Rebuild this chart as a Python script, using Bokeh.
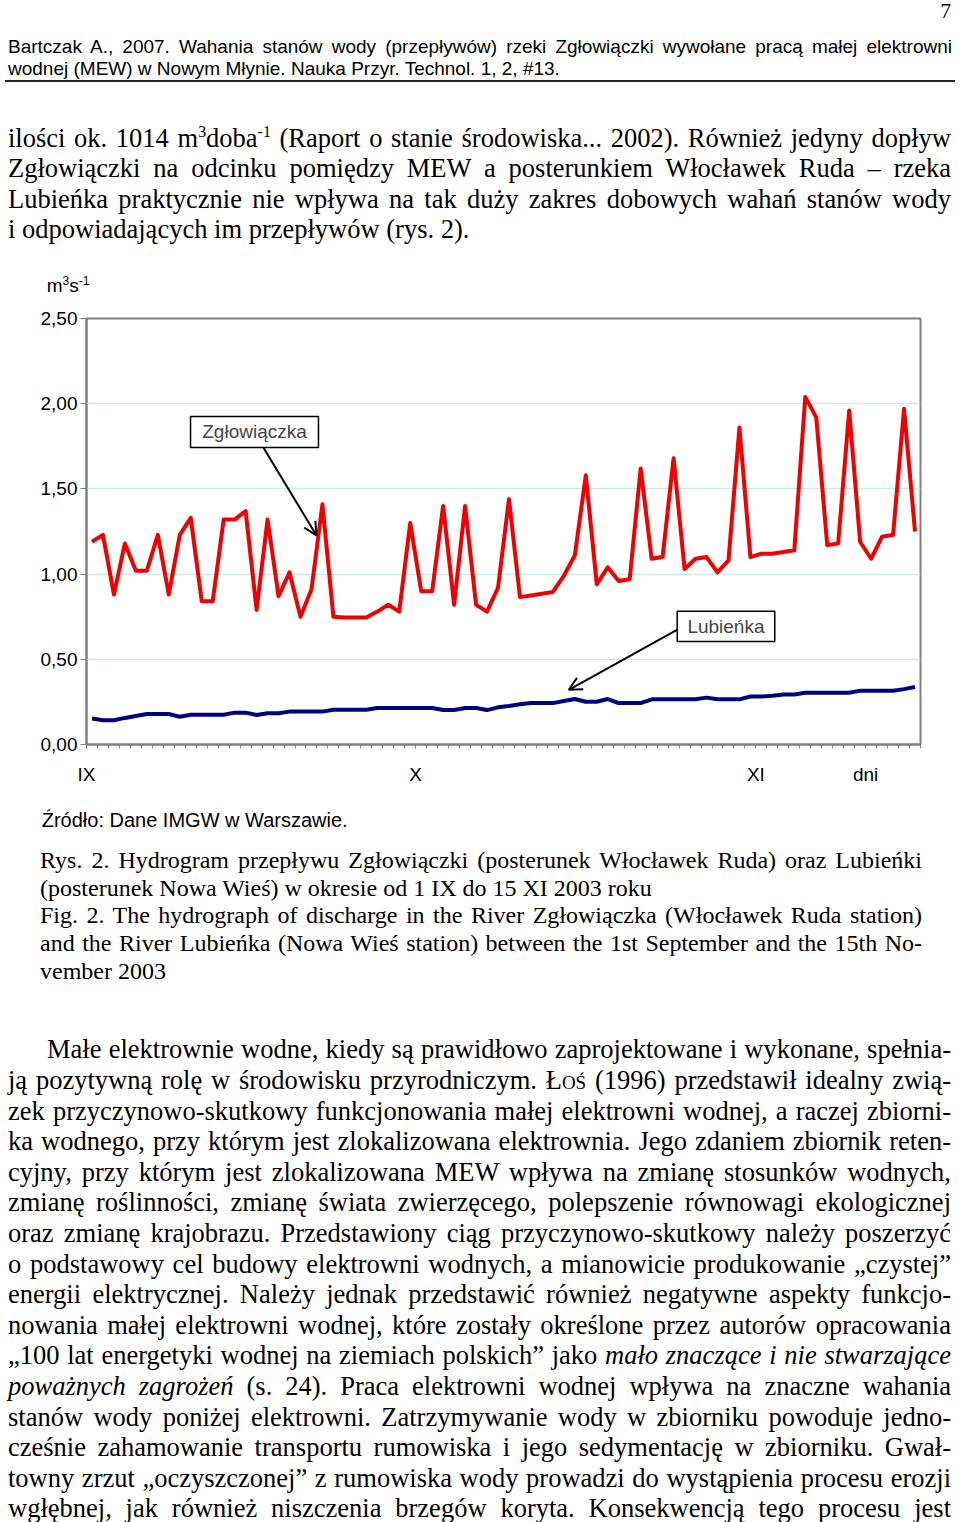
import numpy as np
from bokeh.plotting import figure
from bokeh.models import Range1d, FixedTicker, Label, Arrow, OpenHead, BoxAnnotation, Div
from bokeh.layouts import column
from bokeh.embed import file_html
from bokeh.resources import INLINE

# ---------------- data ----------------
days = list(range(1, 77))  # 1 IX .. 15 XI 2003
zglowiaczka = [1.19, 1.23, 0.88, 1.18, 1.02, 1.02, 1.23, 0.88, 1.23, 1.33,
               0.84, 0.84, 1.32, 1.32, 1.37, 0.79, 1.32, 0.87, 1.01, 0.75,
               0.91, 1.41, 0.75, 0.745, 0.745, 0.745, 0.78, 0.82, 0.78, 1.30,
               0.90, 0.90, 1.40, 0.82, 1.40, 0.82, 0.78, 0.92, 1.44, 0.865,
               0.875, 0.885, 0.895, 0.99, 1.11, 1.58, 0.94, 1.04, 0.96, 0.97,
               1.62, 1.09, 1.10, 1.68, 1.03, 1.09, 1.10, 1.01, 1.08, 1.86,
               1.10, 1.12, 1.12, 1.13, 1.14, 2.04, 1.92, 1.17, 1.18, 1.96,
               1.19, 1.09, 1.22, 1.23, 1.97, 1.25]
lubienka = [0.152, 0.142, 0.142, 0.156, 0.167, 0.179, 0.179, 0.179, 0.163, 0.175,
            0.175, 0.175, 0.175, 0.187, 0.187, 0.173, 0.183, 0.183, 0.193, 0.193,
            0.193, 0.193, 0.204, 0.204, 0.204, 0.204, 0.214, 0.214, 0.214, 0.214,
            0.214, 0.214, 0.202, 0.202, 0.214, 0.214, 0.202, 0.218, 0.226, 0.236,
            0.243, 0.243, 0.243, 0.255, 0.267, 0.251, 0.251, 0.267, 0.243, 0.243,
            0.243, 0.265, 0.265, 0.265, 0.265, 0.265, 0.275, 0.265, 0.265, 0.265,
            0.282, 0.282, 0.286, 0.294, 0.294, 0.304, 0.304, 0.304, 0.304, 0.304,
            0.316, 0.316, 0.316, 0.316, 0.325, 0.337]
y_ticks = [0.0, 0.5, 1.0, 1.5, 2.0, 2.5]
y_tick_labels = ["0,00", "0,50", "1,00", "1,50", "2,00", "2,50"]
x_ticks = [0, 30, 61, 71]
x_tick_labels = ["IX", "X", "XI", "dni"]

x = np.array(days) - 0.5

SANS = "Liberation Sans"
SERIF = "Liberation Serif"

# ---------------- chart ----------------
p = figure(width=960, height=500, x_range=Range1d(0, 76), y_range=Range1d(0, 2.5),
           output_backend="svg", toolbar_location=None, title=None,
           min_border_left=86, min_border_right=40, min_border_top=18, min_border_bottom=56,
           margin=(0, 0, 0, 0))
p.background_fill_color = "white"
p.border_fill_color = "white"
p.outline_line_color = "#808080"
p.outline_line_width = 2

p.xgrid.grid_line_color = None
p.ygrid.grid_line_color = "#c9ecef"
p.ygrid.grid_line_width = 1.5

xa = p.xaxis[0]
xa.ticker = FixedTicker(ticks=x_ticks, minor_ticks=list(range(0, 77)))
xa.major_label_overrides = dict(zip(x_ticks, x_tick_labels))
xa.axis_line_color = "#808080"
xa.axis_line_width = 2
xa.major_tick_line_color = "#808080"
xa.minor_tick_line_color = "#808080"
xa.major_tick_out = 4
xa.major_tick_in = 0
xa.minor_tick_out = 4
xa.minor_tick_in = 0
xa.major_label_standoff = 15
xa.major_label_text_font = SANS
xa.major_label_text_font_size = "19px"
xa.major_label_text_color = "black"

ya = p.yaxis[0]
ya.ticker = FixedTicker(ticks=y_ticks)
ya.major_label_overrides = dict(zip(y_ticks, y_tick_labels))
ya.axis_line_color = "#808080"
ya.axis_line_width = 2
ya.major_tick_line_color = "#808080"
ya.minor_tick_line_color = None
ya.major_tick_out = 6
ya.major_tick_in = 0
ya.major_label_standoff = 3
ya.major_label_text_font = SANS
ya.major_label_text_font_size = "19px"
ya.major_label_text_color = "black"

p.line(x, zglowiaczka, line_color="#f00000", line_width=4, line_join="round")
p.line(x, lubienka, line_color="#000080", line_width=4, line_join="round")

# annotations (arrows + boxed labels)
p.add_layout(Arrow(end=OpenHead(size=13, line_width=2, line_color="black"),
                   x_start=16.13, y_start=1.741, x_end=20.96, y_end=1.227,
                   line_width=2, line_color="black"))
p.add_layout(Arrow(end=OpenHead(size=13, line_width=2, line_color="black"),
                   x_start=53.97, y_start=0.679, x_end=43.95, y_end=0.321,
                   line_width=2, line_color="black"))
p.add_layout(BoxAnnotation(left=9.48, right=21.14, bottom=1.743, top=1.925,
                           fill_color="white", fill_alpha=1.0,
                           line_color="black", line_alpha=1.0, line_width=1.5))
p.add_layout(BoxAnnotation(left=53.83, right=62.72, bottom=0.604, top=0.782,
                           fill_color="white", fill_alpha=1.0,
                           line_color="black", line_alpha=1.0, line_width=1.5))
p.add_layout(Label(x=15.31, y=1.834, text="Zgłowiączka", text_align="center",
                   text_baseline="middle", text_font=SANS, text_font_size="19px"))
p.add_layout(Label(x=58.27, y=0.693, text="Lubieńka", text_align="center",
                   text_baseline="middle", text_font=SANS, text_font_size="19px"))

# ---------------- page text ----------------
def ln(html, top, left, width, justify=True, indent=0):
    a = "justify" if justify else "left"
    return (f'<div style="position:absolute;top:{top:.1f}px;left:{left}px;width:{width}px;'
            f'white-space:nowrap;text-align:{a};text-align-last:{a};'
            f'padding-left:{indent}px;box-sizing:border-box;">{html}</div>')

SUP = 'style="font-size:0.6em;vertical-align:super;line-height:0;"'

# --- top block (page y 0..300)
top_parts = []
top_parts.append(f'<div style="position:absolute;top:-1px;right:9px;font-family:\'{SERIF}\';'
                 f'font-size:21px;line-height:24px;">7</div>')
hdr = [("Bartczak A., 2007. Wahania stanów wody (przepływów) rzeki Zgłowiączki wywołane pracą małej elektrowni", True),
       ("wodnej (MEW) w Nowym Młynie. Nauka Przyr. Technol. 1, 2, #13.", False)]
hdr_html = "".join(ln(t, 36.0 + i * 22.0, 8, 944, justify=j) for i, (t, j) in enumerate(hdr))
top_parts.append(f'<div style="position:absolute;top:0;left:0;width:960px;font-family:\'{SANS}\';'
                 f'font-size:19px;line-height:21px;">{hdr_html}</div>')
top_parts.append('<div style="position:absolute;left:5px;top:80px;width:950px;height:0;'
                 'border-top:2px solid #222;"></div>')
para = [(f'ilości ok. 1014 m<span {SUP}>3</span>doba<span {SUP}>-1</span> (Raport o stanie środowiska... 2002). Również jedyny dopływ', True),
        ("Zgłowiączki na odcinku pomiędzy MEW a posterunkiem Włocławek Ruda – rzeka", True),
        ("Lubieńka praktycznie nie wpływa na tak duży zakres dobowych wahań stanów wody", True),
        ("i odpowiadających im przepływów (rys. 2).", False)]
para_html = "".join(ln(t, 122.6 + i * 30.6, 8, 943, justify=j) for i, (t, j) in enumerate(para))
top_parts.append(f'<div style="position:absolute;top:0;left:0;width:960px;font-family:\'{SERIF}\';'
                 f'font-size:26.5px;line-height:30.6px;">{para_html}</div>')
unit = 'm<span style="font-size:12px;vertical-align:super;line-height:0;">3</span>s<span style="font-size:12px;vertical-align:super;line-height:0;">-1</span>'
top_parts.append(f'<div style="position:absolute;top:275px;left:46.7px;font-family:\'{SANS}\';'
                 f'font-size:19px;line-height:22px;white-space:nowrap;">{unit}</div>')
top_html = ('<div style="position:relative;width:960px;height:300px;color:#000;">'
            + "".join(top_parts) + '</div>')

# --- bottom block (page y 800..1522)
bot_parts = []
bot_parts.append(f'<div style="position:absolute;top:9.2px;left:41.7px;font-family:\'{SANS}\';'
                 f'font-size:20px;line-height:22px;white-space:nowrap;">Źródło: Dane IMGW w Warszawie.</div>')
cap = [("Rys. 2. Hydrogram przepływu Zgłowiączki (posterunek Włocławek Ruda) oraz Lubieńki", True),
       ("(posterunek Nowa Wieś) w okresie od 1 IX do 15 XI 2003 roku", False),
       ("Fig. 2. The hydrograph of discharge in the River Zgłowiączka (Włocławek Ruda station)", True),
       ("and the River Lubieńka (Nowa Wieś station) between the 1st September and the 15th No-", True),
       ("vember 2003", False)]
cap_html = "".join(ln(t, 47 + i * 27.7, 40, 882, justify=j) for i, (t, j) in enumerate(cap))
bot_parts.append(f'<div style="position:absolute;top:0;left:0;width:960px;font-family:\'{SERIF}\';'
                 f'font-size:24px;line-height:27.7px;">{cap_html}</div>')
body_lines = [
    "Małe elektrownie wodne, kiedy są prawidłowo zaprojektowane i wykonane, spełnia-",
    'ją pozytywną rolę w środowisku przyrodniczym. <span style="font-variant:small-caps;">Łoś</span> (1996) przedstawił idealny zwią-',
    "zek przyczynowo-skutkowy funkcjonowania małej elektrowni wodnej, a raczej zbiorni-",
    "ka wodnego, przy którym jest zlokalizowana elektrownia. Jego zdaniem zbiornik reten-",
    "cyjny, przy którym jest zlokalizowana MEW wpływa na zmianę stosunków wodnych,",
    "zmianę roślinności, zmianę świata zwierzęcego, polepszenie równowagi ekologicznej",
    "oraz zmianę krajobrazu. Przedstawiony ciąg przyczynowo-skutkowy należy poszerzyć",
    "o podstawowy cel budowy elektrowni wodnych, a mianowicie produkowanie „czystej”",
    "energii elektrycznej. Należy jednak przedstawić również negatywne aspekty funkcjo-",
    "nowania małej elektrowni wodnej, które zostały określone przez autorów opracowania",
    "„100 lat energetyki wodnej na ziemiach polskich” jako <i>mało znaczące i nie stwarzające</i>",
    "<i>poważnych zagrożeń</i> (s. 24). Praca elektrowni wodnej wpływa na znaczne wahania",
    "stanów wody poniżej elektrowni. Zatrzymywanie wody w zbiorniku powoduje jedno-",
    "cześnie zahamowanie transportu rumowiska i jego sedymentację w zbiorniku. Gwał-",
    "towny zrzut „oczyszczonej” z rumowiska wody prowadzi do wystąpienia procesu erozji",
    "wgłębnej, jak również niszczenia brzegów koryta. Konsekwencją tego procesu jest",
]
body_html = "".join(ln(t, 234.4 + i * 30.6, 8, 943, indent=(39 if i == 0 else 0))
                    for i, t in enumerate(body_lines))
bot_parts.append(f'<div style="position:absolute;top:0;left:0;width:960px;font-family:\'{SERIF}\';'
                 f'font-size:26.5px;line-height:30.6px;">{body_html}</div>')
bot_html = ('<div style="position:relative;width:960px;height:722px;color:#000;">'
            + "".join(bot_parts) + '</div>')

vis = {"overflow": "visible"}
d_top = Div(text=top_html, width=960, height=300, styles=vis, margin=(0, 0, 0, 0))
d_bot = Div(text=bot_html, width=960, height=722, styles=vis, margin=(0, 0, 0, 0))

layout = column(d_top, p, d_bot, spacing=0, margin=(0, 0, 0, 0))

open("out.html", "w").write(file_html(layout, INLINE))
